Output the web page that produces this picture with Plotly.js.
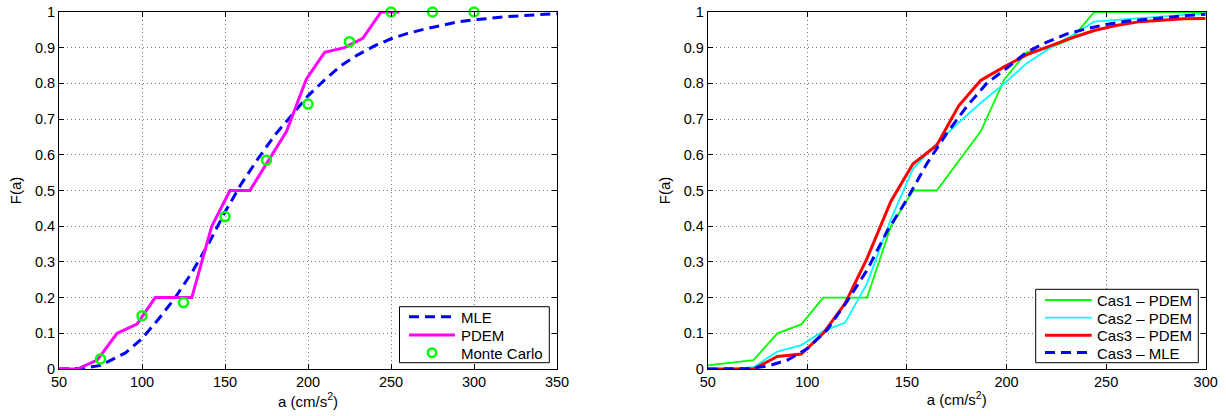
<!DOCTYPE html>
<html>
<head>
<meta charset="utf-8">
<script src="https://cdn.plot.ly/plotly-3.0.1.min.js"></script>
<style>html,body{margin:0;padding:0;background:#fff;}#chart{width:1226px;height:416px;}</style>
</head>
<body>
<div id="chart"></div>
<script>
// ---- Left panel data ----
const mleLeftX = [50,60,65,75,90,100,110,120,130,140,150,160,170,180,190,200,210,220,230,240,250,260,270,280,290,300,320,340,350];
const mleLeftY = [0,0,0.002,0.01,0.045,0.085,0.14,0.20,0.27,0.35,0.44,0.52,0.59,0.655,0.71,0.765,0.81,0.85,0.88,0.905,0.925,0.94,0.952,0.963,0.972,0.978,0.987,0.993,0.995];
const pdemLeftX = [50,61,73,85,97,108,119,130,142,153,165,176,187,199,210,222,233,244,255];
const pdemLeftY = [0,0,0.025,0.1,0.126,0.2,0.2,0.2,0.4,0.5,0.5,0.583,0.665,0.812,0.887,0.9,0.926,1,1];
const mcX = [75,100,125,150,175,200,225,250,275,300];
const mcY = [0.028,0.149,0.186,0.427,0.585,0.742,0.917,1,1,1];

// ---- Right panel data ----
const cas1X = [50,73,85,97,108,119,130,142,153,165,176,187,199,210,222,233,244,300];
const cas1Y = [0.01,0.025,0.1,0.125,0.2,0.2,0.2,0.4,0.5,0.5,0.583,0.665,0.812,0.887,0.9,0.926,1,1];
const gridX = [50,61,73,85,97,108,119,130,142,153,165,176,187,199,210,222,233,244,255,267,278,289,300];
const cas2Y = [0,0,0.005,0.049,0.067,0.106,0.13,0.24,0.42,0.56,0.632,0.69,0.745,0.8,0.856,0.9,0.935,0.973,0.978,0.983,0.987,0.991,0.996];
const cas3Y = [0,0,0,0.035,0.042,0.1,0.184,0.31,0.47,0.574,0.627,0.737,0.808,0.847,0.88,0.905,0.928,0.948,0.962,0.973,0.978,0.981,0.982];
const mleRightX = [50,60,70,80,90,100,110,120,130,140,150,160,170,180,190,200,210,220,230,240,250,260,270,280,290,300];
const mleRightY = [0,0,0.001,0.008,0.025,0.057,0.11,0.19,0.277,0.385,0.475,0.575,0.66,0.735,0.8,0.842,0.887,0.915,0.938,0.953,0.965,0.974,0.98,0.986,0.99,0.994];

const yTicks = [0,0.1,0.2,0.3,0.4,0.5,0.6,0.7,0.8,0.9,1];
const yTickText = ['0','0.1','0.2','0.3','0.4','0.5','0.6','0.7','0.8','0.9','1'];
const xTicksLeft = [50,100,150,200,250,300,350];
const xTicksRight = [50,100,150,200,250,300];

const legendLeftLabels = ['MLE','PDEM','Monte Carlo'];
const legendRightLabels = ['Cas1 – PDEM','Cas2 – PDEM','Cas3 – PDEM','Cas3 – MLE'];

const FONT = 'Liberation Sans, Arial, Helvetica, sans-serif';
const FS_TICK = 14.5, FS_TITLE = 15, FS_LEG = 15;
const dashBlue = '10px,6px';
const BLUE = '#0000ff', MAG = '#ff00ff', GREEN = '#00ff00', CYAN = '#00ffff', RED = '#ff0000';

const styles = {
  mle:  {color:BLUE, width:3, dash:dashBlue},
  pdem: {color:MAG, width:3},
  cas1: {color:GREEN, width:1.8},
  cas2: {color:CYAN, width:1.8},
  cas3: {color:RED, width:3}
};

const traces = [
  {x: mleLeftX, y: mleLeftY, xaxis:'x', yaxis:'y', name:legendLeftLabels[0], mode:'lines', line:styles.mle},
  {x: pdemLeftX, y: pdemLeftY, xaxis:'x', yaxis:'y', name:legendLeftLabels[1], mode:'lines', line:styles.pdem},
  {x: mcX, y: mcY, xaxis:'x', yaxis:'y', name:legendLeftLabels[2], mode:'markers', cliponaxis:false,
   marker:{symbol:'circle-open', size:9, color:GREEN, line:{width:2.5, color:GREEN}}},
  {x: cas1X, y: cas1Y, xaxis:'x2', yaxis:'y2', name:legendRightLabels[0], mode:'lines', line:styles.cas1},
  {x: gridX, y: cas2Y, xaxis:'x2', yaxis:'y2', name:legendRightLabels[1], mode:'lines', line:styles.cas2},
  {x: gridX, y: cas3Y, xaxis:'x2', yaxis:'y2', name:legendRightLabels[2], mode:'lines', line:styles.cas3},
  {x: mleRightX, y: mleRightY, xaxis:'x2', yaxis:'y2', name:legendRightLabels[3], mode:'lines', line:styles.mle}
];

const W = 1226, H = 416;
const px = v => v / W;
const py = v => 1 - v / H;

function xaxisDef(x0, x1, range, ticks, anchor) {
  return {
    domain:[px(x0), px(x1)], range: range, tickvals: ticks, ticktext: ticks.map(String),
    anchor: anchor, showline:true, linecolor:'#000', linewidth:1, mirror:'ticks',
    ticks:'inside', ticklen:5, tickcolor:'#000', showgrid:true, gridcolor:'#777',
    griddash:'1px,3px', gridwidth:1, zeroline:false, tickfont:{family:FONT, size:FS_TICK, color:'#000'},
    title:{text:'a (cm/s<sup>2</sup>)', font:{family:FONT, size:FS_TITLE, color:'#000'}, standoff:5}
  };
}
function yaxisDef(anchor) {
  return {
    domain:[py(369), py(12)], range:[0,1], tickvals: yTicks, ticktext: yTickText,
    anchor: anchor, showline:true, linecolor:'#000', linewidth:1, mirror:'ticks',
    ticks:'inside', ticklen:5, tickcolor:'#000', showgrid:true, gridcolor:'#777',
    griddash:'1px,3px', gridwidth:1, zeroline:false, tickfont:{family:FONT, size:FS_TICK, color:'#000'},
    title:{text:'F(a)', font:{family:FONT, size:FS_TITLE, color:'#000'}, standoff:9}
  };
}

// ---- hand-drawn legends (box, samples, labels) ----
const shapes = [];
const annotations = [];
function legendBox(x0, y0, x1, y1) {
  shapes.push({type:'rect', xref:'paper', yref:'paper', x0:px(x0), x1:px(x1), y0:py(y1), y1:py(y0),
    line:{color:'#000', width:1}, fillcolor:'#fff', layer:'above'});
}
function legendLine(x0, x1, y, st) {
  shapes.push({type:'line', xref:'paper', yref:'paper', x0:px(x0), x1:px(x1), y0:py(y), y1:py(y),
    line:{color:st.color, width:st.width, dash:st.dash || 'solid'}, layer:'above'});
}
function legendCircle(cx, cy, r) {
  shapes.push({type:'circle', xref:'paper', yref:'paper', x0:px(cx-r), x1:px(cx+r), y0:py(cy+r), y1:py(cy-r),
    line:{color:GREEN, width:2.5}, fillcolor:'rgba(0,0,0,0)', layer:'above'});
}
function legendText(x, y, t) {
  annotations.push({xref:'paper', yref:'paper', x:px(x), y:py(y), xanchor:'left', yanchor:'middle',
    text:t, showarrow:false, borderpad:0, font:{family:FONT, size:FS_LEG, color:'#000'}});
}

// left legend
legendBox(399.5, 306.7, 549.3, 362.7);
const leftRows = [316.7, 335, 352.7];
legendLine(409, 455, leftRows[0], styles.mle);
legendLine(409, 455, leftRows[1], styles.pdem);
legendCircle(432, leftRows[2], 4.2);
legendLeftLabels.forEach((t,i) => legendText(459.5, leftRows[i]+0.5, t));

// right legend
legendBox(1035.7, 289.3, 1198.3, 362.7);
const rightRows = [300, 317.6, 335.2, 352.5];
legendLine(1045, 1091.7, rightRows[0], styles.cas1);
legendLine(1045, 1091.7, rightRows[1], styles.cas2);
legendLine(1045, 1091.7, rightRows[2], styles.cas3);
legendLine(1045, 1091.7, rightRows[3], styles.mle);
legendRightLabels.forEach((t,i) => legendText(1095.5, rightRows[i]+0.5, t));

const layout = {
  width: W, height: H, margin:{l:0, r:0, t:0, b:0},
  paper_bgcolor:'#fff', plot_bgcolor:'#fff',
  font:{family:FONT, size:FS_TICK, color:'#000'},
  showlegend:false,
  xaxis: xaxisDef(59, 557, [50,350], xTicksLeft, 'y'),
  yaxis: yaxisDef('x'),
  xaxis2: xaxisDef(707.7, 1205.7, [50,300], xTicksRight, 'y2'),
  yaxis2: yaxisDef('x2'),
  shapes: shapes,
  annotations: annotations
};

Plotly.newPlot('chart', traces, layout, {displayModeBar:false, staticPlot:true});
</script>
</body>
</html>
